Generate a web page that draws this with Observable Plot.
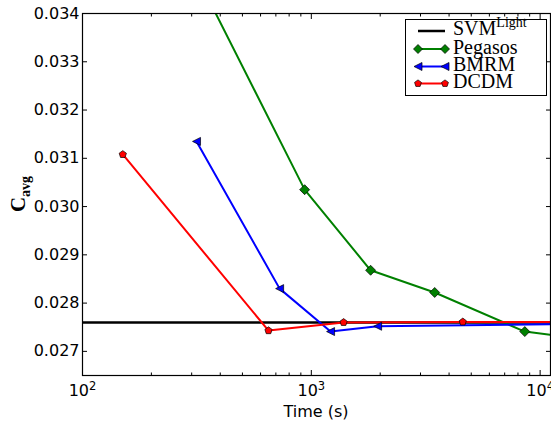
<!DOCTYPE html>
<html><head><meta charset="utf-8">
<script src="https://cdn.jsdelivr.net/npm/d3@7"></script>
<script src="https://cdn.jsdelivr.net/npm/@observablehq/plot@0.6"></script>
<style>body{margin:0;background:#fff}#wrap{width:551px;height:423px}</style>
</head><body><div id="wrap"></div>
<script>
// ---- data ----
const svmLightC = 0.0276;
const pegasosTime = [297, 935, 1816, 3461, 8570, 15000];
const pegasosC    = [0.03503, 0.03035, 0.02868, 0.02822, 0.02741, 0.02727];
const bmrmTime    = [315, 727, 1214, 1949, 15000];
const bmrmC       = [0.03135, 0.02830, 0.02741, 0.02752, 0.02757];
const dcdmTime    = [150, 650, 1384, 4592, 15000];
const dcdmC       = [0.03108, 0.02743, 0.02760, 0.02761, 0.02761];
const legendNames = ["SVM", "Pegasos", "BMRM", "DCDM"];
const xMajor = [100, 1000, 10000];
const xMajorExp = ["2", "3", "4"];
const xMinor = [200,300,400,500,600,700,800,900,2000,3000,4000,5000,6000,7000,8000,9000];
const yTicks = [0.027,0.028,0.029,0.030,0.031,0.032,0.033,0.034];

const toRows = (t, c) => t.map((d, i) => ({t: d, c: c[i]}));
const pegasos = toRows(pegasosTime, pegasosC);
const bmrm = toRows(bmrmTime, bmrmC);
const dcdm = toRows(dcdmTime, dcdmC);

const GREEN = "#008000", BLUE = "#0000ff", RED = "#ff0000";

// custom marker symbols
const triLeft = {draw(ctx, size) { const r = Math.sqrt(size / Math.PI);
  ctx.moveTo(-r, 0); ctx.lineTo(r, -r); ctx.lineTo(r, r); ctx.closePath(); }};
const pentagon = {draw(ctx, size) { const r = Math.sqrt(size / Math.PI);
  for (let i = 0; i < 5; i++) { const a = -Math.PI/2 + i * 2*Math.PI/5;
    const x = r*Math.cos(a), y = r*Math.sin(a); i ? ctx.lineTo(x, y) : ctx.moveTo(x, y); }
  ctx.closePath(); }};
const diamond = {draw(ctx, size) { const r = Math.sqrt(size / Math.PI);
  ctx.moveTo(0, -r); ctx.lineTo(r, 0); ctx.lineTo(0, r); ctx.lineTo(-r, 0); ctx.closePath(); }};

const none = () => "";
const xLab = d => { const k = xMajor.findIndex(v => Math.abs(v - d) < 1e-6 * v); return k >= 0 ? "10^" + xMajorExp[k] : ""; };
const chart = Plot.plot({
  width: 551, height: 423,
  marginLeft: 82, marginRight: 1, marginTop: 13, marginBottom: 48,
  style: {fontFamily: "DejaVu Sans", fontSize: "16px", color: "black", background: "white", overflow: "visible"},
  x: {type: "log", domain: [100, 11100]},
  y: {domain: [0.0265, 0.034]},
  marks: [
    Plot.ruleY([svmLightC], {stroke: "black", strokeWidth: 2.5}),
    Plot.line(pegasos, {x: "t", y: "c", stroke: GREEN, strokeWidth: 2, clip: true}),
    Plot.line(bmrm, {x: "t", y: "c", stroke: BLUE, strokeWidth: 2, clip: true}),
    Plot.line(dcdm, {x: "t", y: "c", stroke: RED, strokeWidth: 2, clip: true}),
    Plot.dot(pegasos, {x: "t", y: "c", symbol: diamond, r: 5, fill: GREEN, stroke: "black", strokeWidth: 0.7, clip: true}),
    Plot.dot(bmrm, {x: "t", y: "c", symbol: triLeft, r: 4, fill: BLUE, stroke: "black", strokeWidth: 0.7, clip: true}),
    Plot.dot(dcdm, {x: "t", y: "c", symbol: pentagon, r: 3.8, fill: RED, stroke: "black", strokeWidth: 0.7, clip: true}),
    Plot.frame({stroke: "black", strokeWidth: 1.2}),
    // inward ticks on all four sides
    Plot.axisX(xMajor, {anchor: "bottom", tickSize: -5, tickFormat: none, label: null}),
    Plot.axisX(xMinor, {anchor: "bottom", tickSize: -2.5, tickFormat: none, label: null}),
    Plot.axisX(xMajor, {anchor: "top", tickSize: -5, tickFormat: none, label: null}),
    Plot.axisX(xMinor, {anchor: "top", tickSize: -2.5, tickFormat: none, label: null}),
    Plot.axisY(yTicks, {anchor: "left", tickSize: -5, tickFormat: none, label: null}),
    Plot.axisY(yTicks, {anchor: "right", tickSize: -5, tickFormat: none, label: null}),
    // tick labels
    Plot.axisX(xMajor, {anchor: "bottom", tickSize: 0, tickPadding: 9, tickFormat: xLab, label: null, fontSize: 16}),
    Plot.axisY(yTicks, {anchor: "left", tickSize: 0, tickPadding: 3, tickFormat: d3.format(".3f"), label: null, fontSize: 16})
  ]
});
document.getElementById("wrap").appendChild(chart);

const svg = d3.select(chart);
// turn "10^n" tick labels into 10 with a superscript exponent
svg.selectAll("text").each(function() {
  const el = d3.select(this), s = el.text();
  const m = /^10\^(\d)$/.exec(s);
  if (m) {
    el.text("10");
    el.append("tspan").attr("font-size", 11.5).attr("dy", "-0.55em").text(m[1]);
  }
});
// x label
svg.append("text").attr("x", 316).attr("y", 417).attr("text-anchor", "middle")
  .attr("font-family", "DejaVu Sans").attr("font-size", 16).text("Time (s)");
// y label with subscript
const yl = svg.append("text").attr("transform", "translate(25,194) rotate(-90)")
  .attr("text-anchor", "middle").attr("font-family", "Liberation Serif").attr("font-weight", "bold").attr("font-size", 21);
yl.append("tspan").text("C");
yl.append("tspan").attr("font-size", 14).attr("dy", 5).text("avg");

// legend
const lg = svg.append("g").attr("text-anchor", "start");
lg.append("rect").attr("x", 405.5).attr("y", 19.5).attr("width", 141).attr("height", 76)
  .attr("fill", "white").attr("stroke", "black").attr("stroke-width", 1);
const rowsY = [31, 49, 66.5, 83.5];
const colors = ["black", GREEN, BLUE, RED];
const syms = [null, diamond, triLeft, pentagon];
const rs = [0, 4.5, 4, 3.6];
legendNames.forEach((name, i) => {
  const y = rowsY[i];
  lg.append("line").attr("x1", 418).attr("x2", 445).attr("y1", y).attr("y2", y)
    .attr("stroke", colors[i]).attr("stroke-width", i === 0 ? 2.5 : 2);
  if (syms[i]) {
    const p = d3.path(); syms[i].draw(p, Math.PI * rs[i] * rs[i]);
    [418, 445].forEach(x => lg.append("path").attr("d", p.toString())
      .attr("transform", `translate(${x},${y})`).attr("fill", colors[i]).attr("stroke", "black").attr("stroke-width", 0.7));
  }
  const t = lg.append("text").attr("x", 453).attr("y", y + 4 + (i === 0 ? 0 : 0.5))
    .attr("text-anchor", "start")
    .attr("font-family", "Liberation Serif").attr("font-size", 20).attr("fill", "black").text(name);
  if (i === 0) t.append("tspan").attr("font-size", 14).attr("dy", -8).text("Light");
});
</script>
</body></html>
